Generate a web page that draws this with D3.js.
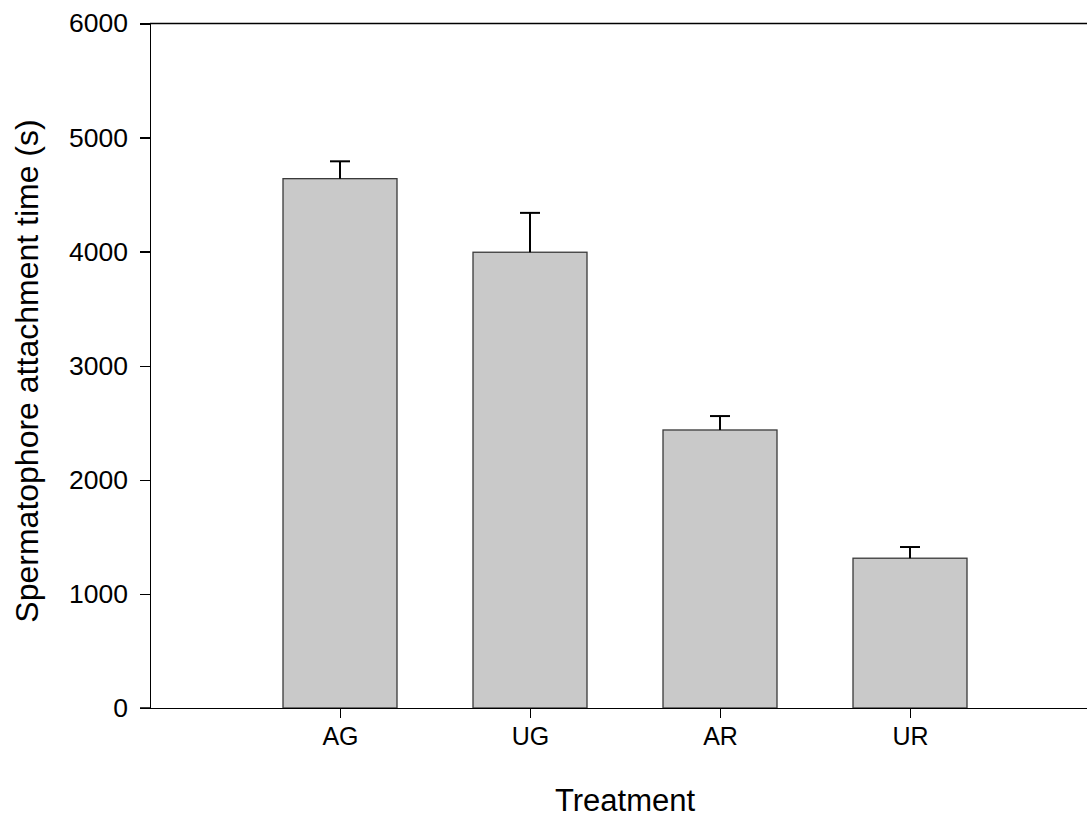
<!DOCTYPE html>
<html lang="en">
  <head>
    <meta charset="utf-8">
    <title>Spermatophore attachment time</title>
    <script src="https://d3js.org/d3.v7.min.js"></script>
    <style type="text/css">
        body {
          margin: 0;
          background: #fff;
        }
        .chart text {
          font-family: "Liberation Sans", Arial, Helvetica, sans-serif;
          fill: #000;
        }
        .axis path,
        .axis line {
          stroke: #000;
          stroke-width: 1.5px;
          shape-rendering: crispEdges;
        }
        .bar {
          fill: #c9c9c9;
          stroke: #3a3a3a;
          stroke-width: 1.3px;
        }
        .err {
          stroke: #000;
          stroke-width: 2px;
          fill: none;
        }
    </style>
  </head>
  <body>
    <div class="chart" id="chart"></div>
    <script>

        // data
        var treatments = ["AG", "UG", "AR", "UR"];
        var means = [4640, 3995, 2437, 1313];
        var errors = [152, 345, 122, 98];
        var yTicks = [0, 1000, 2000, 3000, 4000, 5000, 6000];

        var width = 1087, height = 819;

        var svg = d3.select("#chart").append("svg")
            .attr("width", width)
            .attr("height", height);

        // categories sit at 1..4 on a 0..5 axis, as in SigmaPlot
        var x = d3.scaleLinear().domain([0, 5]).range([150, 1100]);
        var y = d3.scaleLinear().domain([0, 6000]).range([708, 23.5]);
        var barW = (x(1) - x(0)) * 0.6;
        var capW = 20;

        // top frame line
        svg.append("line")
            .attr("class", "err")
            .attr("x1", x(0)).attr("x2", x(5))
            .attr("y1", y(6000)).attr("y2", y(6000))
            .style("stroke-width", "1.5px");

        // bars
        svg.selectAll("rect.bar")
            .data(treatments)
            .enter().append("rect")
              .attr("class", "bar")
              .attr("x", function(d, i) { return x(i + 1) - barW / 2; })
              .attr("width", barW)
              .attr("y", function(d, i) { return y(means[i]); })
              .attr("height", function(d, i) { return y(0) - y(means[i]); });

        // error bars (upper only)
        var eb = svg.selectAll("g.eb")
            .data(treatments)
            .enter().append("g");
        eb.append("line")
            .attr("class", "err")
            .attr("x1", function(d, i) { return x(i + 1); })
            .attr("x2", function(d, i) { return x(i + 1); })
            .attr("y1", function(d, i) { return y(means[i]); })
            .attr("y2", function(d, i) { return y(means[i] + errors[i]); });
        eb.append("line")
            .attr("class", "err")
            .attr("x1", function(d, i) { return x(i + 1) - capW / 2; })
            .attr("x2", function(d, i) { return x(i + 1) + capW / 2; })
            .attr("y1", function(d, i) { return y(means[i] + errors[i]); })
            .attr("y2", function(d, i) { return y(means[i] + errors[i]); });

        // y axis
        var yAxis = svg.append("g")
            .attr("class", "axis")
            .attr("transform", "translate(" + x(0) + ",0)")
            .call(d3.axisLeft(y).tickValues(yTicks).tickFormat(d3.format("d"))
                .tickSize(10).tickSizeOuter(0).tickPadding(12));
        yAxis.selectAll("text").style("font-size", "26.5px");

        // x axis
        var xAxis = svg.append("g")
            .attr("class", "axis")
            .attr("transform", "translate(0," + y(0) + ")")
            .call(d3.axisBottom(x).tickValues([1, 2, 3, 4])
                .tickFormat(function(d) { return treatments[d - 1]; })
                .tickSize(10).tickSizeOuter(0).tickPadding(9));
        xAxis.selectAll("text").style("font-size", "25px");
        // extend baseline to meet the 0 tick on the y axis
        svg.append("line")
            .attr("class", "err")
            .attr("x1", x(0) - 10).attr("x2", x(0))
            .attr("y1", y(0)).attr("y2", y(0))
            .style("stroke-width", "1.5px");

        // axis titles
        svg.append("text")
            .attr("x", (x(0) + x(5)) / 2)
            .attr("y", 811)
            .attr("text-anchor", "middle")
            .style("font-size", "31px")
            .text("Treatment");

        svg.append("text")
            .attr("transform", "translate(38,371) rotate(-90)")
            .attr("text-anchor", "middle")
            .style("font-size", "32px")
            .text("Spermatophore attachment time (s)");

    </script>
  </body>
</html>
